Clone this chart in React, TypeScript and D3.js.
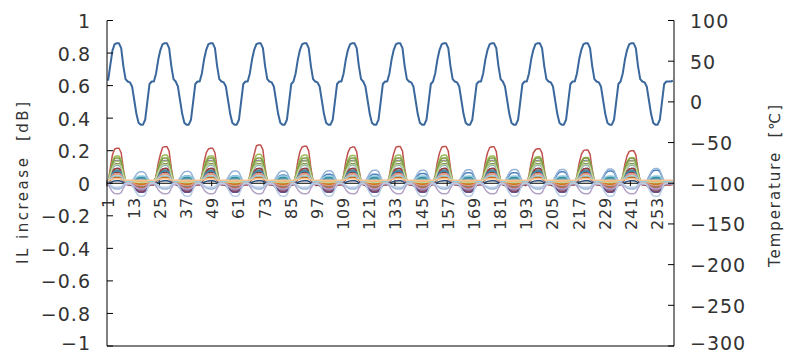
import * as d3 from "d3";

// temperature [°C], one value per category (260 points, ~21.5 per cycle)
const temperature = [
  26, 45, 63,
  71, 72, 72, 66, 44, 28, 25, 24, 19, 2, -15, -26, -28, -28, -22, 0, 22, 25, 25, 35, 52, 64,
  71, 72, 72, 66, 44, 28, 25, 19, 2, -15, -26, -28, -28, -22, 0, 22, 25, 25, 35, 52, 64,
  71, 72, 72, 66, 44, 28, 25, 24, 19, 2, -15, -26, -28, -28, -22, 0, 22, 25, 25, 35, 52, 64,
  71, 72, 72, 66, 44, 28, 25, 24, 19, 2, -15, -26, -28, -28, -22, 0, 22, 25, 35, 52, 64,
  71, 72, 72, 66, 44, 28, 25, 24, 19, 2, -15, -26, -28, -28, -22, 0, 22, 25, 25, 35, 52, 64,
  71, 72, 72, 66, 44, 28, 25, 19, 2, -15, -26, -28, -28, -22, 0, 22, 25, 25, 35, 52, 64,
  71, 72, 72, 66, 44, 28, 25, 24, 19, 2, -15, -26, -28, -28, -22, 0, 22, 25, 35, 52, 64,
  71, 72, 72, 66, 44, 28, 25, 24, 19, 2, -15, -26, -28, -28, -22, 0, 22, 25, 25, 35, 52, 64,
  71, 72, 72, 66, 44, 28, 25, 19, 2, -15, -26, -28, -28, -22, 0, 22, 25, 25, 35, 52, 64,
  71, 72, 72, 66, 44, 28, 25, 24, 19, 2, -15, -26, -28, -28, -22, 0, 22, 25, 25, 35, 52, 64,
  71, 72, 72, 66, 44, 28, 25, 24, 19, 2, -15, -26, -28, -28, -22, 0, 22, 25, 35, 52, 64,
  71, 72, 72, 66, 44, 28, 25, 24, 19, 2, -15, -26, -28, -28, -22, 0, 22, 25, 25, 25, 26,
];
// points belonging to each heat/cold cycle
const cycleLengths = [25, 21, 22, 21, 22, 21, 21, 22, 21, 22, 21, 21];

const xTickLabels = [1, 13, 25, 37, 49, 61, 73, 85, 97, 109, 121, 133, 145, 157, 169, 181, 193, 205, 217, 229, 241, 253];
const leftTicks = [1, 0.8, 0.6, 0.4, 0.2, 0, -0.2, -0.4, -0.6, -0.8, -1];
const rightTicks = [100, 50, 0, -50, -100, -150, -200, -250, -300];

// IL increase per sample: peak at hot plateau, extreme at cold trough, level at 25°C
const redHot = [0.215, 0.225, 0.215, 0.235, 0.228, 0.222, 0.226, 0.226, 0.224, 0.212, 0.205, 0.2];
const greenHot = [0.165, 0.17, 0.165, 0.175, 0.17, 0.168, 0.17, 0.17, 0.165, 0.16, 0.155, 0.152];
const blueCold = [0.035, 0.04, 0.04, 0.045, 0.05, 0.05, 0.055, 0.06, 0.06, 0.065, 0.07, 0.075];
const paleBlueCold = [0.065, 0.068, 0.07, 0.07, 0.072, 0.075, 0.075, 0.078, 0.08, 0.08, 0.082, 0.085];

const ilHot: (number | number[])[] = [
  0.06, redHot, greenHot, 0.14, 0.1, 0.05, 0.02, 0.07, 0.12, 0.09, 0.035, 0.025, 0.045, 0.085, 0.13,
  0.115, 0.075, 0.04, 0.1, 0.15, 0.08, 0.065, 0.03, -0.04, 0.055, 0.105, -0.06, 0.035, 0.01, -0.025,
];
const ilCold: (number | number[])[] = [
  blueCold, -0.025, -0.015, -0.055, 0.015, -0.01, 0.005, -0.035, -0.02, -0.04, 0.02, -0.02, 0.03, -0.03, -0.01,
  -0.045, 0.01, -0.005, -0.04, -0.01, -0.05, 0.025, -0.015, paleBlueCold, -0.02, -0.005, -0.03, 0.035, 0, -0.08,
];
const ilBase = [
  0.005, 0, 0.003, 0, 0.01, 0.012, -0.005, -0.005, 0, 0, 0.005, 0.008, 0.01, 0, 0.005,
  0, 0.01, 0.015, -0.01, 0.005, -0.005, 0.01, 0.01, 0.005, 0.005, 0.01, -0.005, 0.01, 0.018, 0,
];
const ilColors = [
  "#4F81BD", "#C0504D", "#9BBB59", "#8064A2", "#4BACC6", "#F79646", "#2C4D75", "#772C2A", "#5F7530", "#4D3B62",
  "#276A7C", "#B65708", "#729ACA", "#CD7371", "#AFC97A", "#9983B5", "#6FBDD1", "#F9AB6B", "#9E3A38", "#7E9D40",
  "#664F83", "#358EA6", "#E46C0A", "#95B3D7", "#D99694", "#C3D69B", "#B3A2C7", "#93CDDD", "#FAC090", "#B9CDE5",
];
const tempColor = "#3A679C";

const W = 785;
const H = 354;
const font = "'DejaVu Sans', sans-serif";
const textColor = "#333";

const fmt = (v: number) => String(v).replace("-", "\u2212");

export default function App() {
  const n = temperature.length;
  const idx = d3.range(n);
  const x = d3.scalePoint<number>().domain(idx).range([107, 674]).padding(0.5);
  const yL = d3.scaleLinear().domain([-1, 1]).range([346, 20.5]);
  const yR = d3.scaleLinear().domain([-300, 100]).range([346, 20.5]);

  const cycleOf: number[] = cycleLengths.flatMap((len, c) => Array(len).fill(c));
  const pick = (v: number | number[], c: number) => (Array.isArray(v) ? v[c] : v);

  const ilSeries = ilColors.map((color, s) => ({
    color,
    values: temperature.map((t, k) => {
      const c = cycleOf[k];
      const hot = Math.max(0, (t - 25) / 47);
      const cold = Math.max(0, (25 - t) / 53);
      return ilBase[s] + pick(ilHot[s], c) * hot + pick(ilCold[s], c) * cold;
    }),
  }));

  const lineL = d3
    .line<number>()
    .x((_, k) => x(k)!)
    .y((v) => yL(v));
  const lineR = d3
    .line<number>()
    .x((_, k) => x(k)!)
    .y((v) => yR(v));

  const step = x.step();
  const y0 = yL(0);
  // keep the lowest tick labels inside the page
  const labelY = (y: number) => Math.min(y + 0.5, 343);

  return (
    <svg
      width={W}
      height={H}
      style={{ position: "fixed", left: 0, top: 0, background: "#fff" }}
    >
      {/* category axis at zero */}
      <line x1={107} x2={674} y1={y0} y2={y0} stroke="#000" strokeWidth={1} />
      {xTickLabels.map((_, j) => {
        const xx = 107 + j * 12 * step;
        return <line key={j} x1={xx} x2={xx} y1={y0 - 3} y2={y0 + 3} stroke="#000" />;
      })}

      {ilSeries.map((s, i) => (
        <path
          key={i}
          d={lineL(s.values) ?? ""}
          fill="none"
          stroke={s.color}
          strokeWidth={1.5}
          strokeLinejoin="round"
        />
      ))}
      <path
        d={lineR(temperature) ?? ""}
        fill="none"
        stroke={tempColor}
        strokeWidth={2}
        strokeLinejoin="round"
      />

      {/* left axis */}
      <line x1={107} x2={107} y1={20.5} y2={346} stroke="#000" />
      <line x1={107} x2={674} y1={346} y2={346} stroke="#000" />
      {leftTicks.map((v) => (
        <g key={v}>
          <line x1={107} x2={113} y1={yL(v)} y2={yL(v)} stroke="#000" />
          <text
            x={91}
            y={labelY(yL(v))}
            textAnchor="end"
            dominantBaseline="central"
            fontFamily={font}
            fontSize={19}
            letterSpacing={1}
            fill={textColor}
          >
            {fmt(v)}
          </text>
        </g>
      ))}

      {/* right axis */}
      <line x1={674} x2={674} y1={20.5} y2={346} stroke="#000" />
      {rightTicks.map((v) => (
        <g key={v}>
          <line x1={668} x2={674} y1={yR(v)} y2={yR(v)} stroke="#000" />
          <text
            x={690}
            y={labelY(yR(v))}
            textAnchor="start"
            dominantBaseline="central"
            fontFamily={font}
            fontSize={19}
            letterSpacing={1}
            fill={textColor}
          >
            {fmt(v)}
          </text>
        </g>
      ))}

      {/* category labels */}
      {xTickLabels.map((lab) => (
        <text
          key={lab}
          transform={`translate(${x(lab - 1)},197) rotate(-90)`}
          textAnchor="end"
          dominantBaseline="central"
          fontFamily={font}
          fontSize={16}
          letterSpacing={0.8}
          fill={textColor}
        >
          {lab}
        </text>
      ))}

      {/* axis titles */}
      <text
        transform="translate(23,183) rotate(-90)"
        textAnchor="middle"
        dominantBaseline="central"
        fontFamily={font}
        fontSize={15}
        textLength={162}
        lengthAdjust="spacing"
        fill={textColor}
        style={{ whiteSpace: "pre" }}
      >
        {"IL increase  [dB]"}
      </text>
      <text
        transform="translate(775,186) rotate(-90)"
        textAnchor="middle"
        dominantBaseline="central"
        fontFamily={font}
        fontSize={15}
        textLength={162}
        lengthAdjust="spacing"
        fill={textColor}
        style={{ whiteSpace: "pre" }}
      >
        {"Temperature  [\u2103]"}
      </text>
    </svg>
  );
}
